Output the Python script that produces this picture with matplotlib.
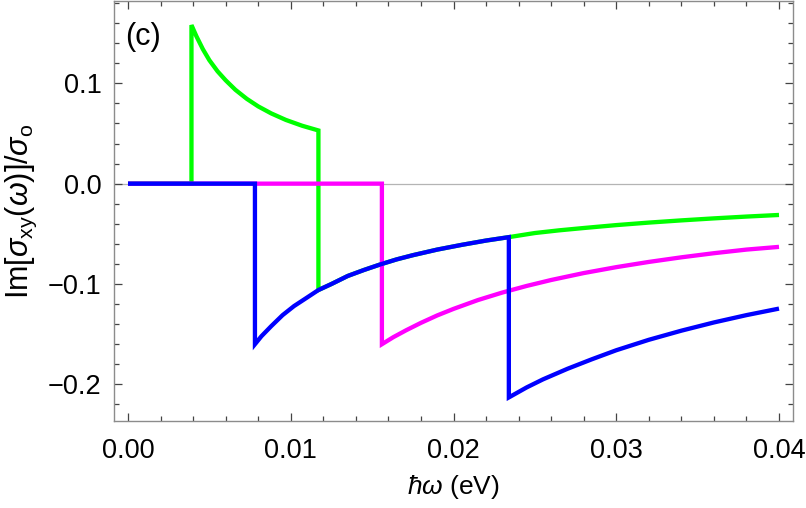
import numpy as np
import matplotlib.pyplot as plt
from matplotlib.ticker import MultipleLocator

plt.rcParams['font.family'] = ['Liberation Sans', 'DejaVu Sans']
plt.rcParams['mathtext.fontset'] = 'custom'
plt.rcParams['mathtext.rm'] = 'Liberation Sans'
plt.rcParams['mathtext.it'] = 'Liberation Sans:italic'

# green curve
green_x = [0.0, 0.0039, 0.0039, 0.0042, 0.0046, 0.005, 0.0055, 0.006, 0.0066, 0.0073, 0.008,
           0.0088, 0.0097, 0.0107, 0.0117,
           0.0117, 0.0125, 0.0135, 0.0145, 0.0155, 0.0165, 0.0175, 0.019, 0.0205, 0.022, 0.0234,
           0.025, 0.0265, 0.028, 0.030, 0.032, 0.034, 0.036, 0.038, 0.040]
green_y = [0.0, 0.0, 0.158, 0.147, 0.134, 0.123, 0.112, 0.103, 0.0935, 0.0845, 0.077,
           0.070, 0.0635, 0.0577, 0.053,
           -0.106, -0.100, -0.092, -0.086, -0.0805, -0.0755, -0.0713, -0.0657, -0.061, -0.0567, -0.0533,
           -0.0492, -0.0465, -0.0442, -0.0413, -0.0388, -0.0366, -0.0346, -0.0328, -0.0312]

# magenta curve
magenta_x = [0.0, 0.0156, 0.0156, 0.0163, 0.0171, 0.018, 0.019, 0.020, 0.0215, 0.023, 0.0245,
             0.026, 0.028, 0.030, 0.032, 0.034, 0.036, 0.038, 0.040]
magenta_y = [0.0, 0.0, -0.160, -0.153, -0.146, -0.1387, -0.1313, -0.1248, -0.116, -0.1085, -0.1019,
             -0.096, -0.0891, -0.0832, -0.078, -0.0734, -0.0693, -0.0657, -0.063]

# blue curve
blue_x = [0.0, 0.0078, 0.0078, 0.0082, 0.0088, 0.0095, 0.0102, 0.011, 0.0117, 0.0125, 0.0135,
          0.0145, 0.0155, 0.0165, 0.0175, 0.019, 0.0205, 0.022, 0.0234,
          0.0234, 0.0245, 0.0255, 0.027, 0.0285, 0.030, 0.032, 0.034, 0.036, 0.038, 0.040]
blue_y = [0.0, 0.0, -0.160, -0.152, -0.142, -0.131, -0.122, -0.1135, -0.106, -0.100, -0.092,
          -0.086, -0.0805, -0.0755, -0.0713, -0.0657, -0.061, -0.0567, -0.0533,
          -0.213, -0.203, -0.195, -0.1845, -0.175, -0.166, -0.1556, -0.1465, -0.1383, -0.131, -0.1245]

fig = plt.figure(figsize=(8.06, 5.08), dpi=100)
ax = fig.add_axes([114/806, 87/508, 679/806, 420/508])

ax.axhline(0, color='#b4b4b4', lw=0.9, zorder=1)
lw = 3.1
style = dict(lw=lw, solid_joinstyle='miter', solid_capstyle='butt')
ax.plot(green_x, green_y, color='#00ff00', zorder=2, **style)
ax.plot(magenta_x, magenta_y, color='#ff00ff', zorder=3, **style)
ax.plot(blue_x, blue_y, color='#0000ff', zorder=4, **style)

ax.set_xlim(-0.00086, 0.04086)
ax.set_ylim(-0.2365, 0.182)

ax.xaxis.set_minor_locator(MultipleLocator(0.002))
ax.yaxis.set_minor_locator(MultipleLocator(0.02))
ax.set_xticks([0, 0.01, 0.02, 0.03, 0.04])
ax.set_xticklabels(['0.00', '0.01', '0.02', '0.03', '0.04'])
ax.set_yticks([-0.2, -0.1, 0.0, 0.1])
ax.set_yticklabels(['\u22120.2', '\u22120.1', '0.0', '0.1'])

ax.tick_params(which='both', direction='in', top=True, right=True,
               labelsize=19.5, color='#444444', width=0.9)
ax.tick_params(axis='x', pad=12)
ax.tick_params(axis='y', pad=9)
ax.tick_params(which='major', length=6)
ax.tick_params(which='minor', length=3.6)
for s in ax.spines.values():
    s.set_color('#8c8c8c')
    s.set_linewidth(1.0)

ax.set_xlabel(r'$\hbar\omega$ (eV)', fontsize=19, labelpad=7)
ax.set_ylabel(r'Im[$\sigma_{\mathrm{xy}}(\omega)$]/$\sigma_{\mathrm{o}}$', fontsize=22, labelpad=6)

ax.text(0.016, 0.915, '(c)', transform=ax.transAxes, fontsize=22, va='center', ha='left')

fig.savefig('out.png', dpi=100)
